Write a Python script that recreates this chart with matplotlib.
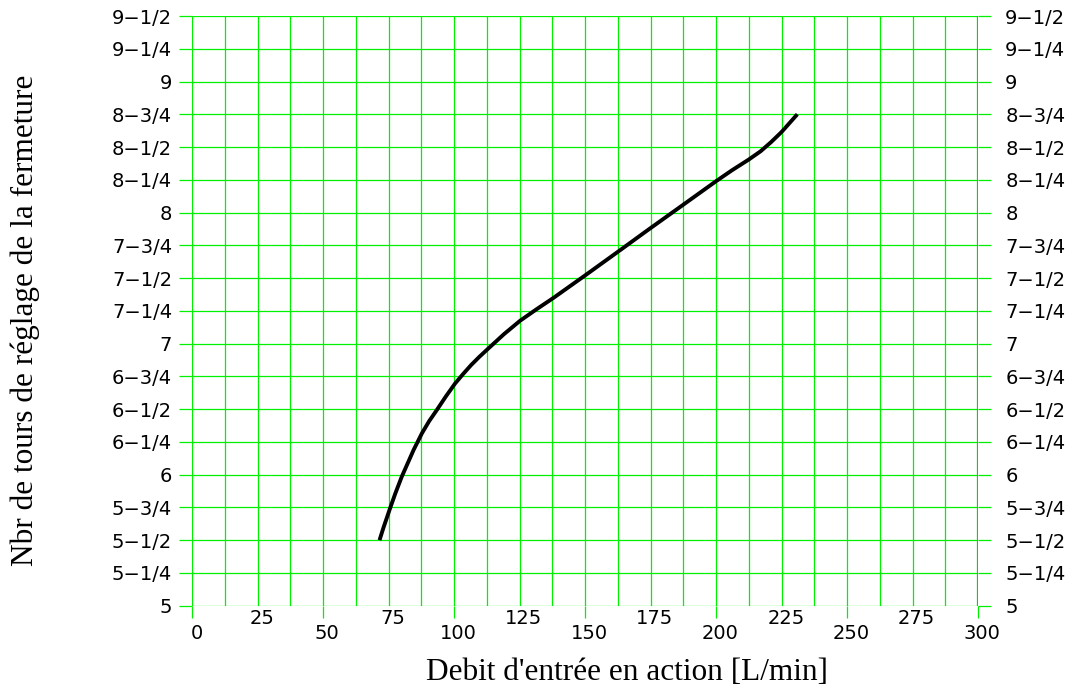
import numpy as np
import matplotlib
matplotlib.use("Agg")
import matplotlib.pyplot as plt
from matplotlib.ticker import FixedLocator
from matplotlib.transforms import ScaledTranslation

# curve
debit = [71.5, 73.0, 75.3, 77.5, 80.0, 84.5, 87.7, 90.5, 93.4, 96.8, 100.4,
         103.5, 106.5, 109.5, 113.0, 119.0, 125.2, 131.5, 137.7, 150.1,
         162.8, 174.3, 187.6, 200.1, 206.0, 212.5, 217.0, 221.0, 225.0, 231.0]
tours = [5.50, 5.595, 5.73, 5.855, 5.985, 6.188, 6.316, 6.41, 6.494, 6.596,
         6.697, 6.77, 6.837, 6.897, 6.962, 7.072, 7.175, 7.263, 7.346, 7.522,
         7.705, 7.872, 8.062, 8.241, 8.322, 8.405, 8.468, 8.538, 8.615, 8.75]

x_major = [0, 50, 100, 150, 200, 250, 300]
x_minor = [25, 75, 125, 175, 225, 275]
y_ticks = np.arange(5, 9.5001, 0.25)
frac = {0: "", 1: "\u22121/4", 2: "\u22121/2", 3: "\u22123/4"}
y_labels = ["%d%s" % (int(v), frac[int(round((v % 1) * 4))]) for v in y_ticks]

green = "#00f000"

fig = plt.figure(figsize=(10.8, 6.9), dpi=100)
ax = fig.add_axes([0.178, 0.1222, 0.7276, 0.8546])
ax.set_xlim(0, 300)
ax.set_ylim(5, 9.5)

# grid every 12.5 L/min and every quarter turn
for gx in np.arange(0, 300.1, 12.5):
    ax.axvline(gx, color=green, lw=0.9, zorder=1)
for gy in y_ticks:
    ax.axhline(gy, color=green, lw=0.9, zorder=1)
ax.axvline(300, color="#00d800", lw=1.6, zorder=1)

ax.plot(debit, tours, color="black", lw=2.8, zorder=3,
        solid_capstyle="butt", solid_joinstyle="round")

for s in ax.spines.values():
    s.set_visible(False)

# staggered x labels
ax.xaxis.set_major_locator(FixedLocator(x_major))
ax.xaxis.set_minor_locator(FixedLocator(x_minor))
ax.set_xticklabels([str(v) for v in x_major])
ax.set_xticklabels([str(v) for v in x_minor], minor=True)
ax.tick_params(axis="x", which="major", length=8.6, width=0.9, color=green,
               pad=4.5, labelsize=14)
ax.tick_params(axis="x", which="minor", length=0, pad=2.5, labelsize=14)
shift = ScaledTranslation(3 / 72, 0, fig.dpi_scale_trans)
for lab in ax.get_xticklabels() + ax.get_xticklabels(minor=True):
    lab.set_transform(lab.get_transform() + shift)

ax.set_yticks(y_ticks)
ax.set_yticklabels(y_labels)
ax.tick_params(axis="y", which="major", length=9.5, width=0.9, color=green,
               left=True, right=True, labelleft=True, labelright=True,
               labelsize=14, pad=5)
off = ScaledTranslation(5 / 72, 0, fig.dpi_scale_trans)
for t in ax.yaxis.get_major_ticks():
    t.label2.set_transform(t.label2.get_transform() + off)

fig.text(627 / 1080, 1 - 672 / 690, "Debit d'entrée en action [L/min]",
         family="Liberation Serif", fontsize=22.5, ha="center", va="center")
fig.text(25 / 1080, 1 - 320 / 690, "Nbr de tours de réglage de la fermeture",
         family="Liberation Serif", fontsize=22.5, rotation=90,
         ha="center", va="center")

fig.savefig("out.png", dpi=100)
